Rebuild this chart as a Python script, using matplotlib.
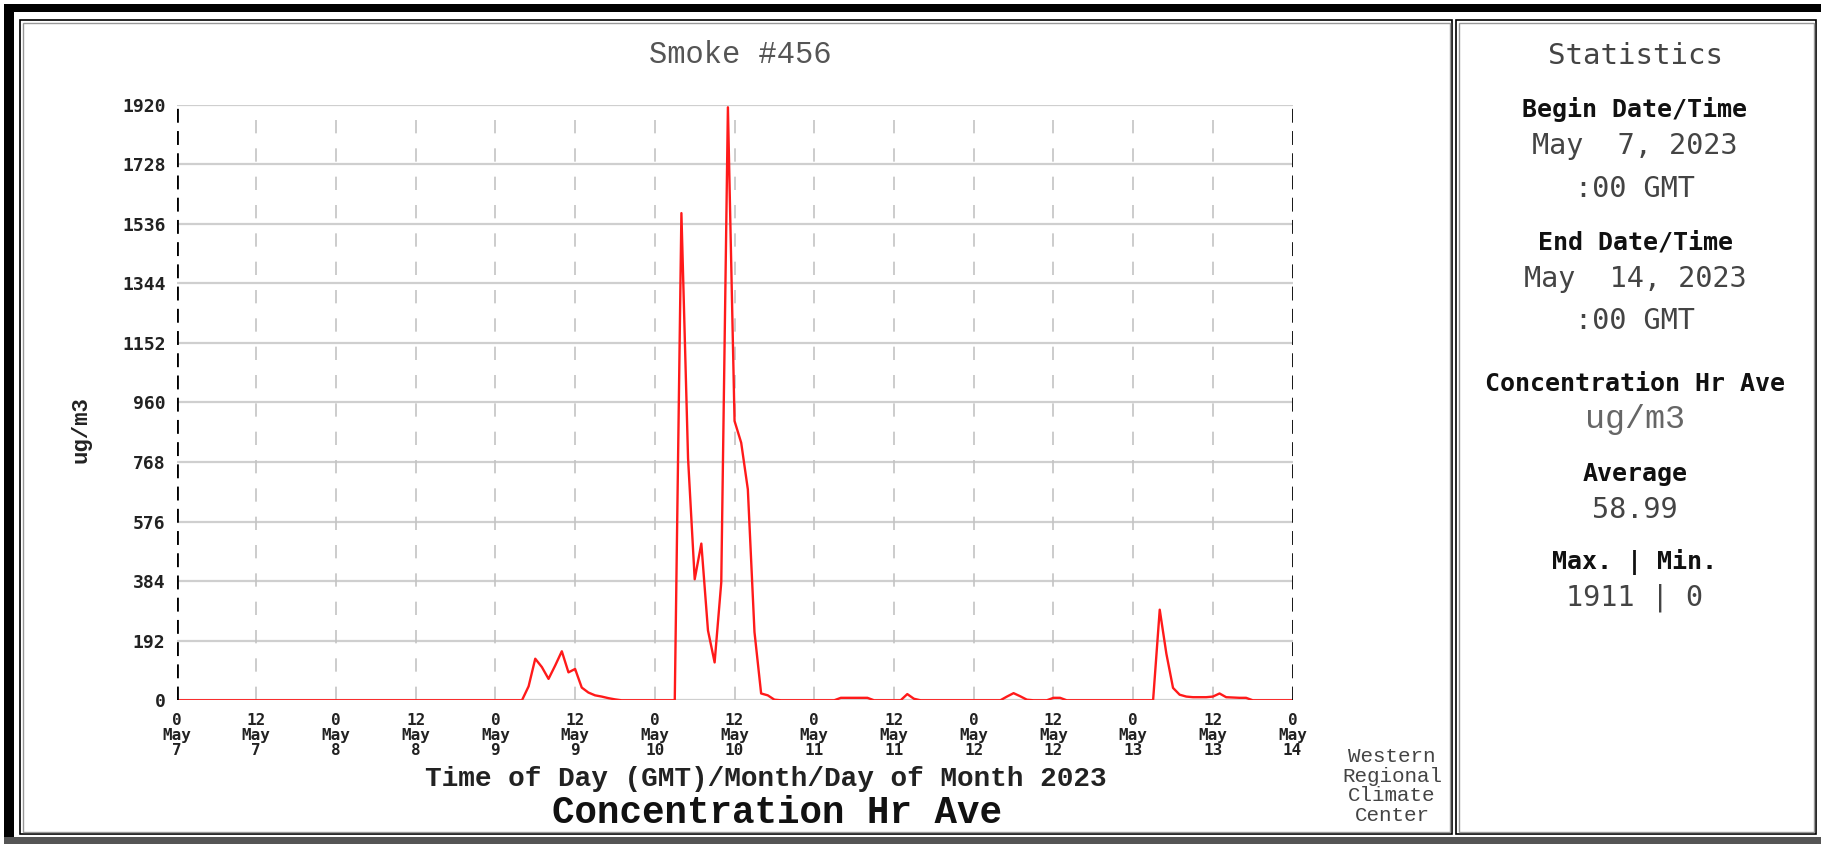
import matplotlib
matplotlib.use("Agg")
import matplotlib.pyplot as plt
from matplotlib.patches import Rectangle

# hourly concentration, ug/m3, 0h May 7 .. 0h May 14 (169 values)
may7 = [0] * 24
may8 = [0] * 24
may9 = [0, 0, 0, 0, 0, 45, 134, 107, 69, 112, 158, 90,
        101, 41, 25, 16, 12, 7, 3, 0, 0, 0, 0, 0]
may10 = [0, 0, 0, 0, 1570, 780, 390, 505, 225, 122, 380, 1911,
         900, 830, 680, 220, 22, 16, 2, 0, 0, 0, 0, 0]
may11 = [0, 0, 0, 0, 8, 8, 8, 8, 8, 0, 0, 0,
         0, 0, 20, 5, 0, 0, 0, 0, 0, 0, 0, 0]
may12 = [0, 0, 0, 0, 0, 12, 23, 13, 2, 0, 0, 0,
         8, 8, 0, 0, 0, 0, 0, 0, 0, 0, 0, 0]
may13 = [0, 0, 0, 0, 292, 150, 40, 18, 12, 10, 10, 10,
         12, 22, 10, 9, 8, 8, 0, 0, 0, 0, 0, 0]
may14 = [0]
conc = may7 + may8 + may9 + may10 + may11 + may12 + may13 + may14
hours = list(range(len(conc)))

yticks = [0, 192, 384, 576, 768, 960, 1152, 1344, 1536, 1728, 1920]
xticks = [0, 12, 24, 36, 48, 60, 72, 84, 96, 108, 120, 132, 144, 156, 168]
xticklabels = ["0\nMay\n7", "12\nMay\n7", "0\nMay\n8", "12\nMay\n8", "0\nMay\n9",
               "12\nMay\n9", "0\nMay\n10", "12\nMay\n10", "0\nMay\n11", "12\nMay\n11",
               "0\nMay\n12", "12\nMay\n12", "0\nMay\n13", "12\nMay\n13", "0\nMay\n14"]

stats_lines = [
    ("Statistics", "normal", "#444444", 21, 56),
    ("Begin Date/Time", "bold", "#111111", 18, 109),
    ("May  7, 2023", "normal", "#444444", 20.5, 146),
    (":00 GMT", "normal", "#444444", 20.5, 189),
    ("End Date/Time", "bold", "#111111", 18, 242),
    ("May  14, 2023", "normal", "#444444", 20.5, 279),
    (":00 GMT", "normal", "#444444", 20.5, 321),
    ("Concentration Hr Ave", "bold", "#111111", 18, 384),
    ("Average", "bold", "#111111", 18, 474),
    ("58.99", "normal", "#444444", 20.5, 510),
    ("Max. | Min.", "bold", "#111111", 18, 562),
    ("1911 | 0", "normal", "#444444", 20.5, 598),
]

W, H = 1821, 844
fig = plt.figure(figsize=(W / 100, H / 100), dpi=100)
fig.patch.set_facecolor("white")


def fx(x):
    return x / W


def fy(y):
    return 1 - y / H


def box(x0, y0, x1, y1, **kw):
    fig.add_artist(Rectangle((fx(x0), fy(y1)), fx(x1) - fx(x0), fy(y0) - fy(y1),
                             transform=fig.transFigure, **kw))


# outer frame
box(4, 4, W + 5, 12, facecolor="black", edgecolor="none")
box(4, 4, 14, H, facecolor="black", edgecolor="none")
box(4, 837, W + 5, H, facecolor="#555555", edgecolor="none")
# panels (double borders)
for x0, x1 in [(20, 1452), (1456, 1816)]:
    box(x0, 20, x1, 834, facecolor="none", edgecolor="black", lw=1.2)
    box(x0 + 2.5, 22.5, x1 - 2.5, 831.5, facecolor="none", edgecolor="#999999", lw=1.0)

x_left, x_right, y_top, y_bot = 176.5, 1292.6, 104.5, 700.3
ax = fig.add_axes([fx(x_left), fy(y_bot), fx(x_right) - fx(x_left), fy(y_top) - fy(y_bot)])
ax.set_xlim(0, 168)
ax.set_ylim(0, 1920)

for v in yticks:
    ax.axhline(v, color="#cfcfcf", lw=1.6, zorder=1)
for h in xticks[1:-1]:
    ax.axvline(h, color="#c4c4c4", lw=1.2, dashes=(8, 9), zorder=1)
for h in (xticks[0], xticks[-1]):
    ax.axvline(h, color="black", lw=2.0, dashes=(5, 3), zorder=3)

ax.plot(hours, conc, color="#ff1a1a", lw=1.7, zorder=2)

for s in ax.spines.values():
    s.set_visible(False)
ax.set_yticks(yticks)
ax.set_yticklabels([str(v) for v in yticks])
ax.set_xticks(xticks)
ax.set_xticklabels(xticklabels, linespacing=1.0)
ax.tick_params(axis="x", length=0, labelsize=11.5, pad=9)
ax.tick_params(axis="y", length=0, labelsize=13, pad=8)
for lab in ax.get_xticklabels() + ax.get_yticklabels():
    lab.set_fontfamily("DejaVu Sans Mono")
    lab.set_fontweight("bold")
    lab.set_color("#222222")

fig.text(fx(740), fy(55), "Smoke #456", ha="center", va="center",
         family="Liberation Mono", fontsize=22, color="#555555")
fig.text(fx(81), fy(430), "ug/m3", ha="center", va="center", rotation=90,
         family="Liberation Mono", fontweight="bold", fontsize=16, color="#222222")
fig.text(fx(766), fy(779), "Time of Day (GMT)/Month/Day of Month 2023", ha="center", va="center",
         family="Liberation Mono", fontweight="bold", fontsize=20, color="#222222")
fig.text(fx(777), fy(813), "Concentration Hr Ave", ha="center", va="center",
         family="Liberation Mono", fontweight="bold", fontsize=27, color="#111111")
fig.text(fx(1392), fy(786), "Western\nRegional\nClimate\nCenter", ha="center", va="center",
         family="Liberation Mono", fontsize=15, color="#444444", linespacing=1.05)

for txt, wt, col, size, y in stats_lines:
    fig.text(fx(1635), fy(y), txt, ha="center", va="center", family="DejaVu Sans Mono",
             fontweight=wt, color=col, fontsize=size)
fig.text(fx(1635), fy(420), "ug/m3", ha="center", va="center", family="Liberation Mono",
         color="#666666", fontsize=24)

fig.savefig("out.png", dpi=100)
